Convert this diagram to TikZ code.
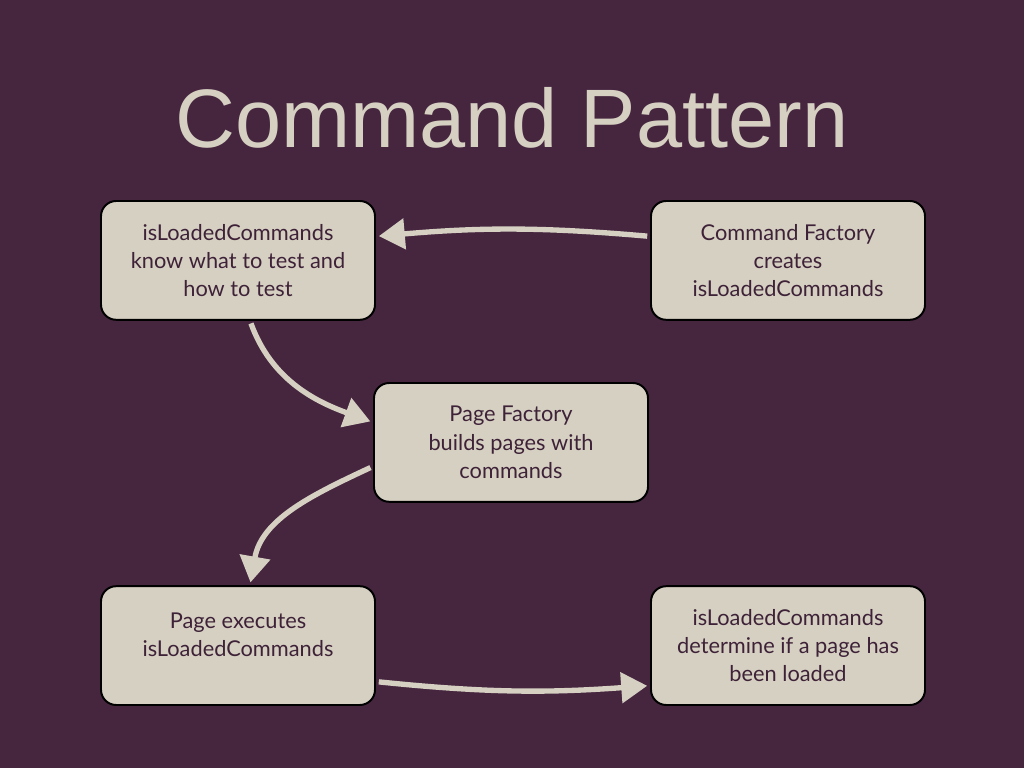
\documentclass[tikz,border=0pt]{standalone}
\usepackage{fontspec}
\setmainfont{Lato}
\newfontfamily\titlefont{Liberation Sans}
\usepackage{xcolor}
\usepackage{tikz}
\usetikzlibrary{arrows.meta, positioning, calc}
\definecolor{slatebg}{RGB}{70, 38, 63}
\definecolor{chalk}{RGB}{214, 208, 194}
\definecolor{inkpurple}{RGB}{62, 34, 56}

\begin{document}
\begin{tikzpicture}[
    box/.style={rectangle, rounded corners=0.38cm, draw=black, line width=1.4pt, fill=chalk, text=inkpurple, minimum width=6.85cm, minimum height=2.97cm, align=center, font=\fontsize{15.5}{20}\selectfont},
    chalkarrow/.style={draw=chalk, line width=3.8pt, -{Triangle[length=0.65cm, width=0.75cm]}, shorten >=2pt, shorten <=2pt}
]
% Background
\fill[slatebg] (0,0) rectangle (25.6,19.2);
\useasboundingbox (0,0) rectangle (25.6,19.2);

% Title
\node[anchor=base, text=chalk, font=\titlefont\fontsize{59}{70}\selectfont] (title) at (12.8,15.5) {Command Pattern};

% Boxes
\node[box] (loaded) at (5.95,12.69) {isLoadedCommands\\know what to test and\\how to test};
\node[box] (factory) at (19.7,12.69) {Command Factory\\creates\\isLoadedCommands};
\node[box] (pagefactory) at (12.775,8.14) {Page Factory\\builds pages with\\commands};
\node[box] (execute) at (5.95,3.06) {Page executes\\isLoadedCommands\\[-4pt]\mbox{}};
\node[box] (determine) at (19.7,3.06) {isLoadedCommands\\determine if a page has\\been loaded};

% Arrows
\draw[chalkarrow] ([yshift=0.6cm]factory.west) to[bend right=5] ([yshift=0.6cm]loaded.east);
\draw[chalkarrow] ([xshift=0.3cm]loaded.south) to[out=-70, in=160] ([yshift=0.5cm]pagefactory.west);
\draw[chalkarrow] ([yshift=-0.6cm]pagefactory.west) to[out=205, in=80] ([xshift=0.3cm]execute.north);
\draw[chalkarrow] ([yshift=-0.9cm]execute.east) to[bend right=5] ([yshift=-1.0cm]determine.west);
\end{tikzpicture}
\end{document}
